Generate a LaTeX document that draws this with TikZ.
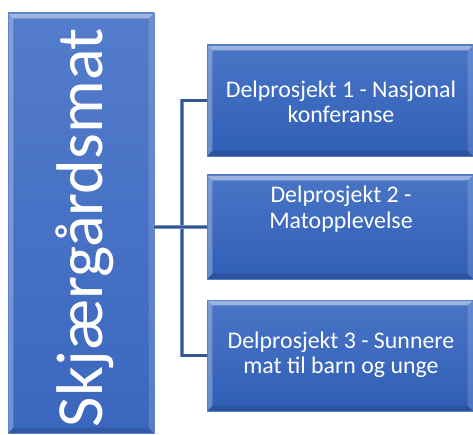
\documentclass[tikz,border=0pt]{standalone}
\usepackage{fontspec}
\setmainfont{Carlito}
\usetikzlibrary{calc}
\definecolor{boxtop}{HTML}{4A75C6}
\definecolor{boxbot}{HTML}{2F5FB6}
\definecolor{ltop}{HTML}{547CCB}
\definecolor{lbot}{HTML}{3A67BE}
\definecolor{connlight}{HTML}{7090C8}
\definecolor{conndark}{HTML}{34558F}
\tikzset{
  bevel/.style={path picture={
    \coordinate (nw) at (path picture bounding box.north west);
    \coordinate (ne) at (path picture bounding box.north east);
    \coordinate (sw) at (path picture bounding box.south west);
    \coordinate (se) at (path picture bounding box.south east);
    \fill[white,opacity=.45] (nw) -- (ne) -- ([shift={(-4pt,-4pt)}]ne) -- ([shift={(4pt,-4pt)}]nw) -- cycle;
    \fill[white,opacity=.28] (nw) -- ([shift={(4pt,-4pt)}]nw) -- ([shift={(4pt,4pt)}]sw) -- (sw) -- cycle;
    \fill[black,opacity=.12] (sw) -- ([shift={(4pt,4pt)}]sw) -- ([shift={(-4pt,4pt)}]se) -- (se) -- cycle;
    \fill[white,opacity=.15] (ne) -- (se) -- ([shift={(-4pt,4pt)}]se) -- ([shift={(-4pt,-4pt)}]ne) -- cycle;
  }},
  subbox/.style={rectangle, inner sep=0pt, minimum width=199.5pt, top color=boxtop, bottom color=boxbot, draw=boxbot!80!white, line width=0.4pt, bevel},
  mainbox/.style={rectangle, inner sep=0pt, minimum width=109.5pt, minimum height=315pt, top color=ltop, bottom color=lbot, draw=lbot!80!white, line width=0.4pt, bevel},
  subtext/.style={text=white, align=center, font=\fontsize{17.9pt}{19pt}\selectfont},
  conn/.style={draw=conndark, line width=1.6pt, preaction={draw=connlight, line width=2.6pt}}
}
\begin{document}
\begin{tikzpicture}[x=0.75pt,y=-0.75pt]
\useasboundingbox (0,0) rectangle (473,434);
\node[mainbox] (left) at (81,223) {};
\node[rotate=90, anchor=base, text=white, font=\fontsize{49.5pt}{52pt}\selectfont] (title) at (102,227.5) {Skjærgårdsmat};
\node[subbox, minimum height=83.25pt] (b1) at (340,100.5) {};
\node[subbox, minimum height=78pt] (b2) at (340,227) {};
\node[subbox, minimum height=83.25pt] (b3) at (340,355.5) {};
\node[subtext] (t1) at (341,102) {Delprosjekt 1 - Nasjonal\\konferanse};
\node[subtext] (t2) at (341,209) {Delprosjekt 2 -\\Matopplevelse};
\node[subtext] (t3) at (341,355) {Delprosjekt 3 - Sunnere\\mat til barn og unge};
\coordinate (bus) at (182,227);
\draw[conn] (b1.west) -- (b1.west -| bus) -- (b3.west -| bus) -- (b3.west);
\draw[conn] (left.east |- b2.west) -- (b2.west);
\end{tikzpicture}
\end{document}
